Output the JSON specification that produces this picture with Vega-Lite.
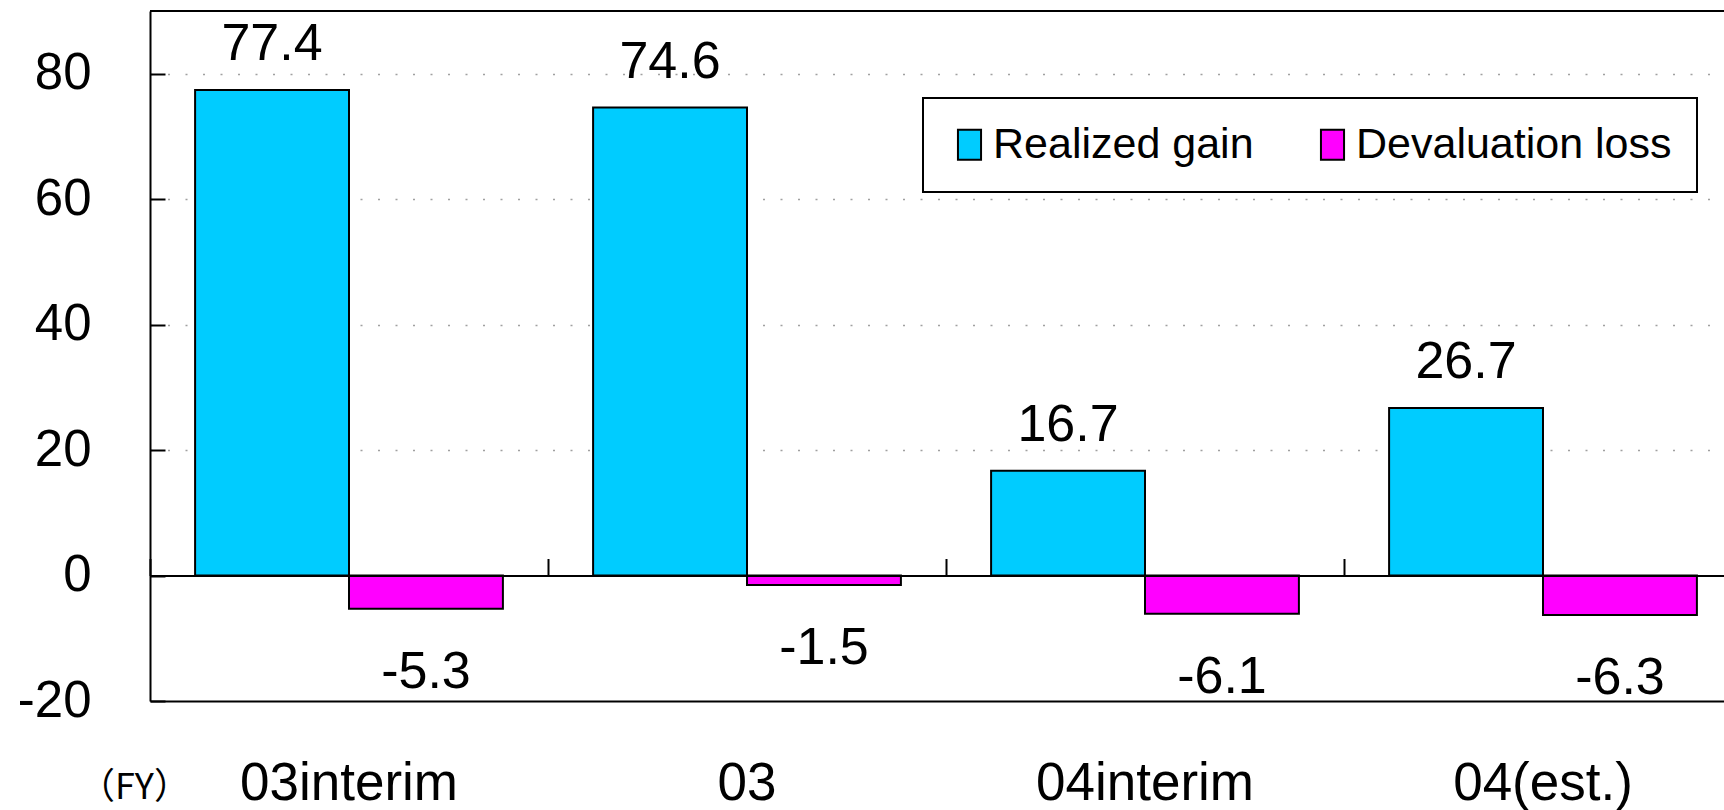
{
  "$schema": "https://vega.github.io/schema/vega-lite/v6.json",
  "width": 1574,
  "height": 690,
  "autosize": {"type": "none"},
  "padding": {"left": 150, "top": 11, "right": 0, "bottom": 109},
  "background": "white",
  "config": {
    "view": {"stroke": null},
    "font": "Liberation Sans",
    "text": {"font": "Liberation Sans"}
  },
  "data": {
    "values": [
      {"fy": "03interim", "series": "Realized gain", "value": 77.4},
      {"fy": "03interim", "series": "Devaluation loss", "value": -5.3},
      {"fy": "03", "series": "Realized gain", "value": 74.6},
      {"fy": "03", "series": "Devaluation loss", "value": -1.5},
      {"fy": "04interim", "series": "Realized gain", "value": 16.7},
      {"fy": "04interim", "series": "Devaluation loss", "value": -6.1},
      {"fy": "04(est.)", "series": "Realized gain", "value": 26.7},
      {"fy": "04(est.)", "series": "Devaluation loss", "value": -6.3}
    ]
  },
  "layer": [
    {
      "mark": {"type": "bar", "stroke": "black", "strokeWidth": 2},
      "encoding": {
        "x": {
          "field": "fy", "type": "nominal", "sort": null,
          "scale": {"paddingInner": 0, "paddingOuter": 0, "range": [0, 1592]},
          "axis": {
            "orient": "bottom",
            "title": "（FY）",
            "titleFont": "Noto Sans CJK JP",
            "titleFontSize": 36,
            "titleFontWeight": "normal",
            "titleColor": "black",
            "titleX": -16,
            "titleY": 97,
            "titleAlign": "center",
            "titleBaseline": "alphabetic",
            "domain": true, "domainColor": "black", "domainWidth": 2,
            "ticks": false, "grid": false,
            "labelAngle": 0, "labelLimit": 500,
            "labelFontSize": 53, "labelColor": "black",
            "labelBaseline": "alphabetic", "labelPadding": 98
          }
        },
        "xOffset": {
          "field": "series", "type": "nominal",
          "scale": {"domain": ["Realized gain", "Devaluation loss"], "paddingInner": 0, "paddingOuter": 0.293}
        },
        "y": {
          "field": "value", "type": "quantitative",
          "scale": {"domain": [-20, 90], "nice": false, "zero": false},
          "axis": {
            "orient": "left",
            "title": null,
            "values": [-20, 0, 20, 40, 60, 80],
            "labelExpr": "'' + datum.value",
            "domain": true, "domainColor": "black", "domainWidth": 2,
            "ticks": true, "tickSize": -15, "tickWidth": 2, "tickColor": "black",
            "labelFontSize": 51, "labelColor": "black", "labelPadding": 74,
            "grid": true, "gridDash": [2, 15.5], "gridColor": "#a0a0a0", "gridWidth": 1.5,
            "gridOpacity": {"condition": {"test": "datum.value > 0", "value": 1}, "value": 0}
          }
        },
        "fill": {
          "field": "series", "type": "nominal",
          "scale": {"domain": ["Realized gain", "Devaluation loss"], "range": ["#00CCFF", "#FF00FF"]},
          "legend": {
            "orient": "none", "legendX": 773, "legendY": 87,
            "direction": "horizontal", "title": null,
            "fillColor": "white", "strokeColor": "black",
            "padding": 25,
            "symbolType": "M-0.77,-1L0.77,-1L0.77,1L-0.77,1Z",
            "symbolSize": 900,
            "symbolStrokeColor": "black", "symbolStrokeWidth": 2,
            "symbolOpacity": 1,
            "labelFontSize": 43, "labelColor": "black", "labelOffset": 2,
            "columnPadding": 57, "labelLimit": 600,
            "encode": {"legend": {"update": {"strokeWidth": {"value": 2}}}}
          }
        }
      }
    },
    {
      "transform": [{"filter": "datum.value > 0"}],
      "mark": {"type": "text", "fontSize": 52, "baseline": "alphabetic", "align": "center", "dy": -30, "color": "black"},
      "encoding": {
        "x": {
          "field": "fy", "type": "nominal", "sort": null,
          "axis": {
            "orient": "top", "offset": -564.5, "title": null,
            "labels": false, "grid": false,
            "domain": true, "domainColor": "black", "domainWidth": 2,
            "ticks": true, "tickBand": "extent", "tickSize": 17, "tickWidth": 2, "tickColor": "black",
            "zindex": 1
          }
        },
        "xOffset": {"field": "series", "type": "nominal"},
        "y": {"field": "value", "type": "quantitative"},
        "text": {"field": "value", "type": "nominal"}
      }
    },
    {
      "transform": [{"filter": "datum.value < 0"}],
      "mark": {"type": "text", "fontSize": 52, "baseline": "alphabetic", "align": "center", "dy": 79, "color": "black"},
      "encoding": {
        "x": {"field": "fy", "type": "nominal", "sort": null, "axis": null},
        "xOffset": {"field": "series", "type": "nominal"},
        "y": {"field": "value", "type": "quantitative"},
        "text": {"field": "value", "type": "nominal"}
      }
    },
    {
      "mark": {"type": "rule", "color": "black", "strokeWidth": 2},
      "encoding": {
        "y": {"datum": 90}
      }
    }
  ]
}
